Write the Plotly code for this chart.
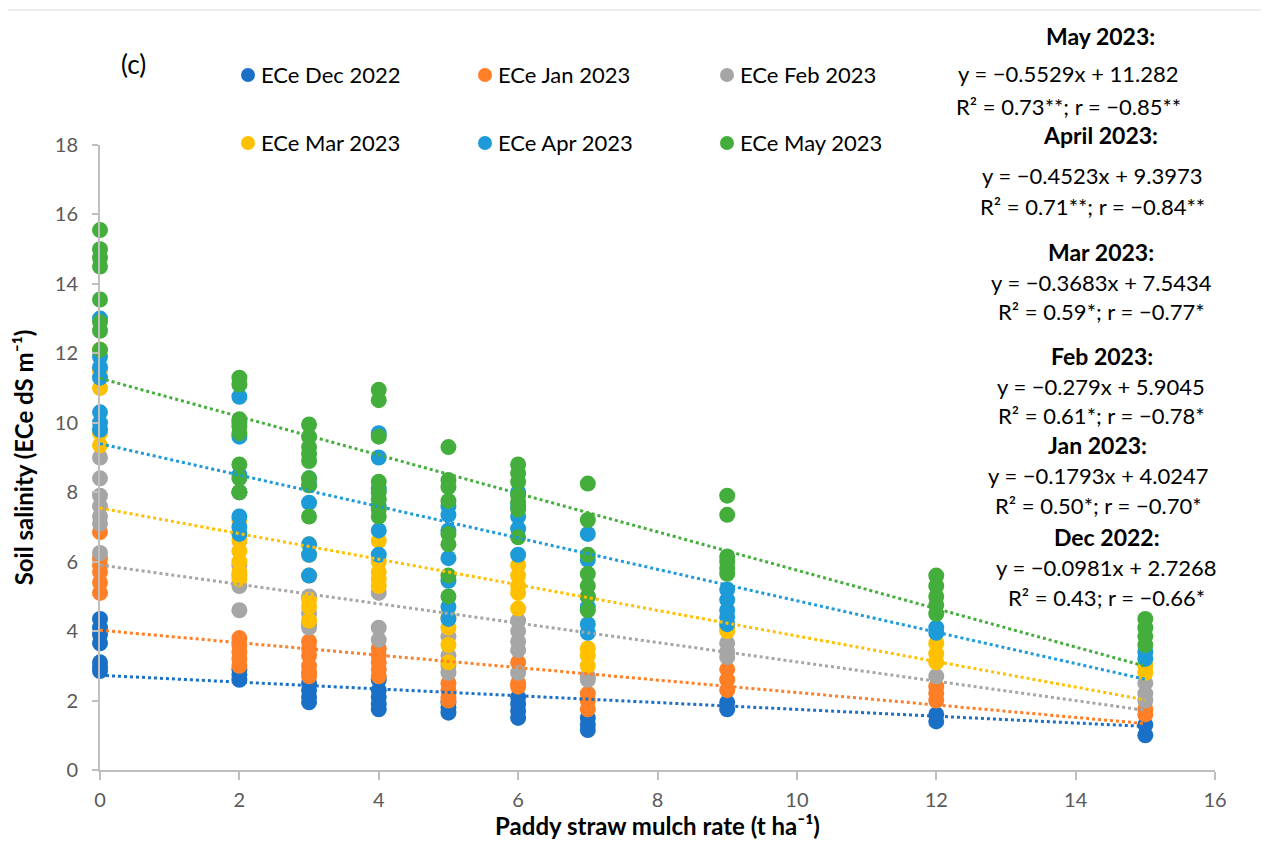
import plotly.graph_objects as go

# ---------------- data ----------------
rates = [0, 2, 3, 4, 5, 6, 7, 9, 12, 15]

dec = [[4.35, 4.1, 3.9, 3.65, 3.1, 2.95, 2.85], [2.9, 2.75, 2.6], [2.5, 2.3, 2.1, 1.95],
       [2.6, 2.3, 2.1, 1.9, 1.75], [1.95, 1.8, 1.65], [2.1, 1.9, 1.7, 1.5], [1.5, 1.3, 1.15],
       [1.95, 1.75], [1.6, 1.4], [1.3, 1.0]]
jan = [[6.85, 6.1, 5.9, 5.7, 5.4, 5.1], [3.8, 3.6, 3.4, 3.2, 3.0], [3.7, 3.5, 3.3, 3.0, 2.8, 2.7],
       [3.5, 3.3, 3.1, 2.9, 2.7], [2.5, 2.3, 2.1, 2.0], [3.1, 2.5, 2.4], [2.2, 2.0, 1.75],
       [2.9, 2.6, 2.3], [2.4, 2.2, 2.0], [1.75, 1.6]]
feb = [[9.0, 8.4, 7.9, 7.6, 7.3, 7.1, 6.25], [5.9, 5.6, 5.3, 4.6], [5.0, 4.5, 4.2, 4.1],
       [5.1, 4.1, 3.75], [3.85, 3.3, 3.0, 2.8], [4.3, 4.0, 3.7, 3.45, 2.8], [2.7, 2.6],
       [3.65, 3.4, 3.25], [2.7], [2.5, 2.2, 2.0]]
mar = [[12.1, 11.5, 11.0, 9.7, 9.35], [8.0, 7.2, 6.6, 6.3, 6.0, 5.7, 5.5], [6.5, 6.2, 5.6, 4.9, 4.7, 4.3],
       [6.6, 6.0, 5.7, 5.5, 5.3], [4.4, 4.1, 3.6, 3.1], [5.9, 5.6, 5.3, 5.1, 4.65], [3.5, 3.3, 3.0],
       [4.1, 4.0], [3.65, 3.35, 3.1], [3.0, 2.8]]
apr = [[13.0, 11.9, 11.6, 11.3, 10.3, 10.0, 9.8], [10.75, 10.0, 9.6, 8.5, 8.0, 7.3, 7.0, 6.8],
       [8.4, 8.2, 7.7, 6.5, 6.2, 5.6], [9.7, 9.0, 8.1, 7.6, 6.9, 6.2],
       [7.6, 7.35, 6.9, 6.1, 5.45, 4.7, 4.35], [8.0, 7.6, 7.3, 6.95, 6.2],
       [6.8, 6.05, 5.0, 4.7, 4.2, 3.95], [5.2, 4.9, 4.6, 4.4, 4.2], [4.1, 3.95], [3.4, 3.2]]
may = [[15.55, 15.0, 14.75, 14.5, 13.55, 12.9, 12.65, 12.1], [11.3, 11.1, 10.1, 9.9, 9.7, 8.8, 8.4, 8.0],
       [9.95, 9.6, 9.3, 9.1, 8.9, 8.4, 8.2, 7.3], [10.95, 10.65, 9.6, 8.3, 8.0, 7.8, 7.5, 7.3],
       [9.3, 8.35, 8.15, 7.75, 6.8, 6.5, 5.6, 5.0], [8.8, 8.55, 8.3, 7.9, 7.7, 7.5, 6.7],
       [8.25, 7.2, 6.2, 5.65, 5.3, 5.0, 4.6], [7.9, 7.35, 6.15, 6.0, 5.8, 5.65],
       [5.6, 5.3, 5.0, 4.75, 4.5], [4.35, 4.1, 3.85, 3.6]]

series_names = ["ECe Dec 2022", "ECe Jan 2023", "ECe Feb 2023", "ECe Mar 2023", "ECe Apr 2023", "ECe May 2023"]
series_data = [dec, jan, feb, mar, apr, may]
colors = ["#1A70C6", "#FF7F27", "#A6A6A6", "#FFC000", "#1D9BD8", "#44AE3C"]

slopes = [-0.0981, -0.1793, -0.279, -0.3683, -0.4523, -0.5529]
intercepts = [2.7268, 4.0247, 5.9045, 7.5434, 9.3973, 11.282]
trend_x = [0, 15]

eq_titles = ["May 2023:", "April 2023:", "Mar 2023:", "Feb 2023:", "Jan 2023:", "Dec 2022:"]
eq_lines = ["y = −0.5529x + 11.282", "y = −0.4523x + 9.3973", "y = −0.3683x + 7.5434",
            "y = −0.279x + 5.9045", "y = −0.1793x + 4.0247", "y = −0.0981x + 2.7268"]
eq_stats = ["R² = 0.73**; r = −0.85**", "R² = 0.71**; r = −0.84**", "R² = 0.59*; r = −0.77*",
            "R² = 0.61*; r = −0.78*", "R² = 0.50*; r = −0.70*", "R² = 0.43; r = −0.66*"]

# ---------------- figure ----------------
OFF = 8                      # page body margin offset
W, H = 1269 - OFF, 841 - OFF
L, R, T, B = 92, 54, 137, 71
PW, PH = W - L - R, H - T - B
FONT = "Lato"

# page-pixel -> paper coordinates (plot area on the page: x 100..1215, y 145..770)
X0P, Y0P = L + OFF, T + OFF + PH


def px(xp):
    return (xp - X0P) / PW


def py(yp):
    return (Y0P - yp) / PH


fig = go.Figure()

for name, data, col in zip(series_names, series_data, colors):
    xs, ys = [], []
    for r, vals in zip(rates, data):
        for v in vals:
            xs.append(r)
            ys.append(v)
    fig.add_trace(go.Scatter(x=xs, y=ys, mode="markers", name=name, showlegend=False,
                             marker=dict(size=16, color=col, line=dict(width=0)),
                             cliponaxis=False))

for m, c, col in zip(slopes, intercepts, colors):
    fig.add_trace(go.Scatter(x=trend_x, y=[m * xx + c for xx in trend_x], mode="lines",
                             showlegend=False, hoverinfo="skip",
                             line=dict(color=col, width=3, dash="dot")))

shapes = []
annotations = []

# border of chart area
shapes.append(dict(type="rect", xref="paper", yref="paper", x0=px(7), x1=px(1290),
                   y0=py(860), y1=py(10), line=dict(color="#D9D9D9", width=1), layer="below"))

# manual legend (2 rows x 3 columns)
leg_pos = [(248, 75), (485, 75), (727, 75), (248, 143), (485, 143), (727, 143)]
for (lx, ly), name, col in zip(leg_pos, series_names, colors):
    shapes.append(dict(type="circle", xref="paper", yref="paper", xsizemode="pixel", ysizemode="pixel",
                       xanchor=px(lx), yanchor=py(ly), x0=-7, x1=7, y0=-7, y1=7,
                       fillcolor=col, line=dict(width=0)))
    annotations.append(dict(text=name, xref="paper", yref="paper", x=px(lx + 11), y=py(ly),
                            xanchor="left", yanchor="middle", showarrow=False,
                            font=dict(family=FONT, size=22, color="#000000")))

annotations.append(dict(text="(c)", xref="paper", yref="paper", x=px(133), y=py(64),
                        xanchor="center", yanchor="middle", showarrow=False,
                        font=dict(family=FONT, size=26, color="#000000")))

# equation blocks: (title center x, title y, eq y, stats y, eq center x)
eq_pos = [(1100, 36, 73, 106, 1068), (1100, 135, 175, 206, 1092), (1101, 252, 282, 311, 1101),
          (1102, 356, 386, 415, 1101), (1097, 445, 475, 505, 1098), (1107, 537, 567, 597, 1106)]
for (cx, ty, ey, sy, ecx), t, e, s in zip(eq_pos, eq_titles, eq_lines, eq_stats):
    annotations.append(dict(text="<b>" + t + "</b>", xref="paper", yref="paper", x=px(cx), y=py(ty),
                            xanchor="center", yanchor="middle", showarrow=False,
                            font=dict(family=FONT, size=23, color="#000000")))
    annotations.append(dict(text=e, xref="paper", yref="paper", x=px(ecx), y=py(ey),
                            xanchor="center", yanchor="middle", showarrow=False,
                            font=dict(family=FONT, size=22, color="#000000")))
    annotations.append(dict(text=s, xref="paper", yref="paper", x=px(ecx), y=py(sy),
                            xanchor="center", yanchor="middle", showarrow=False,
                            font=dict(family=FONT, size=22, color="#000000")))

fig.update_layout(
    width=W, height=H,
    margin=dict(l=L, r=R, t=T, b=B, autoexpand=False),
    paper_bgcolor="white", plot_bgcolor="white",
    showlegend=False,
    shapes=shapes, annotations=annotations,
    xaxis=dict(range=[0, 16], tickmode="linear", tick0=0, dtick=2, showgrid=False, zeroline=False,
               showline=True, linecolor="#BFBFBF", linewidth=2, ticks="outside", ticklen=8,
               tickcolor="#BFBFBF", tickwidth=1.5, ticklabelstandoff=3,
               tickfont=dict(family=FONT, size=20, color="#595959"),
               title=dict(text="<b>Paddy straw mulch rate (t ha⁻¹)</b>", standoff=3,
                          font=dict(family=FONT, size=24, color="#000000"))),
    yaxis=dict(range=[0, 18], tickmode="linear", tick0=0, dtick=2, showgrid=False, zeroline=False,
               showline=True, linecolor="#BFBFBF", linewidth=2, ticks="outside", ticklen=6,
               tickcolor="#BFBFBF", tickwidth=1.5, ticklabelstandoff=10,
               tickfont=dict(family=FONT, size=20, color="#595959"),
               title=dict(text="<b>Soil salinity (ECe dS m⁻¹)</b>", standoff=14,
                          font=dict(family=FONT, size=24, color="#000000"))),
)

fig.write_html("out.html")
